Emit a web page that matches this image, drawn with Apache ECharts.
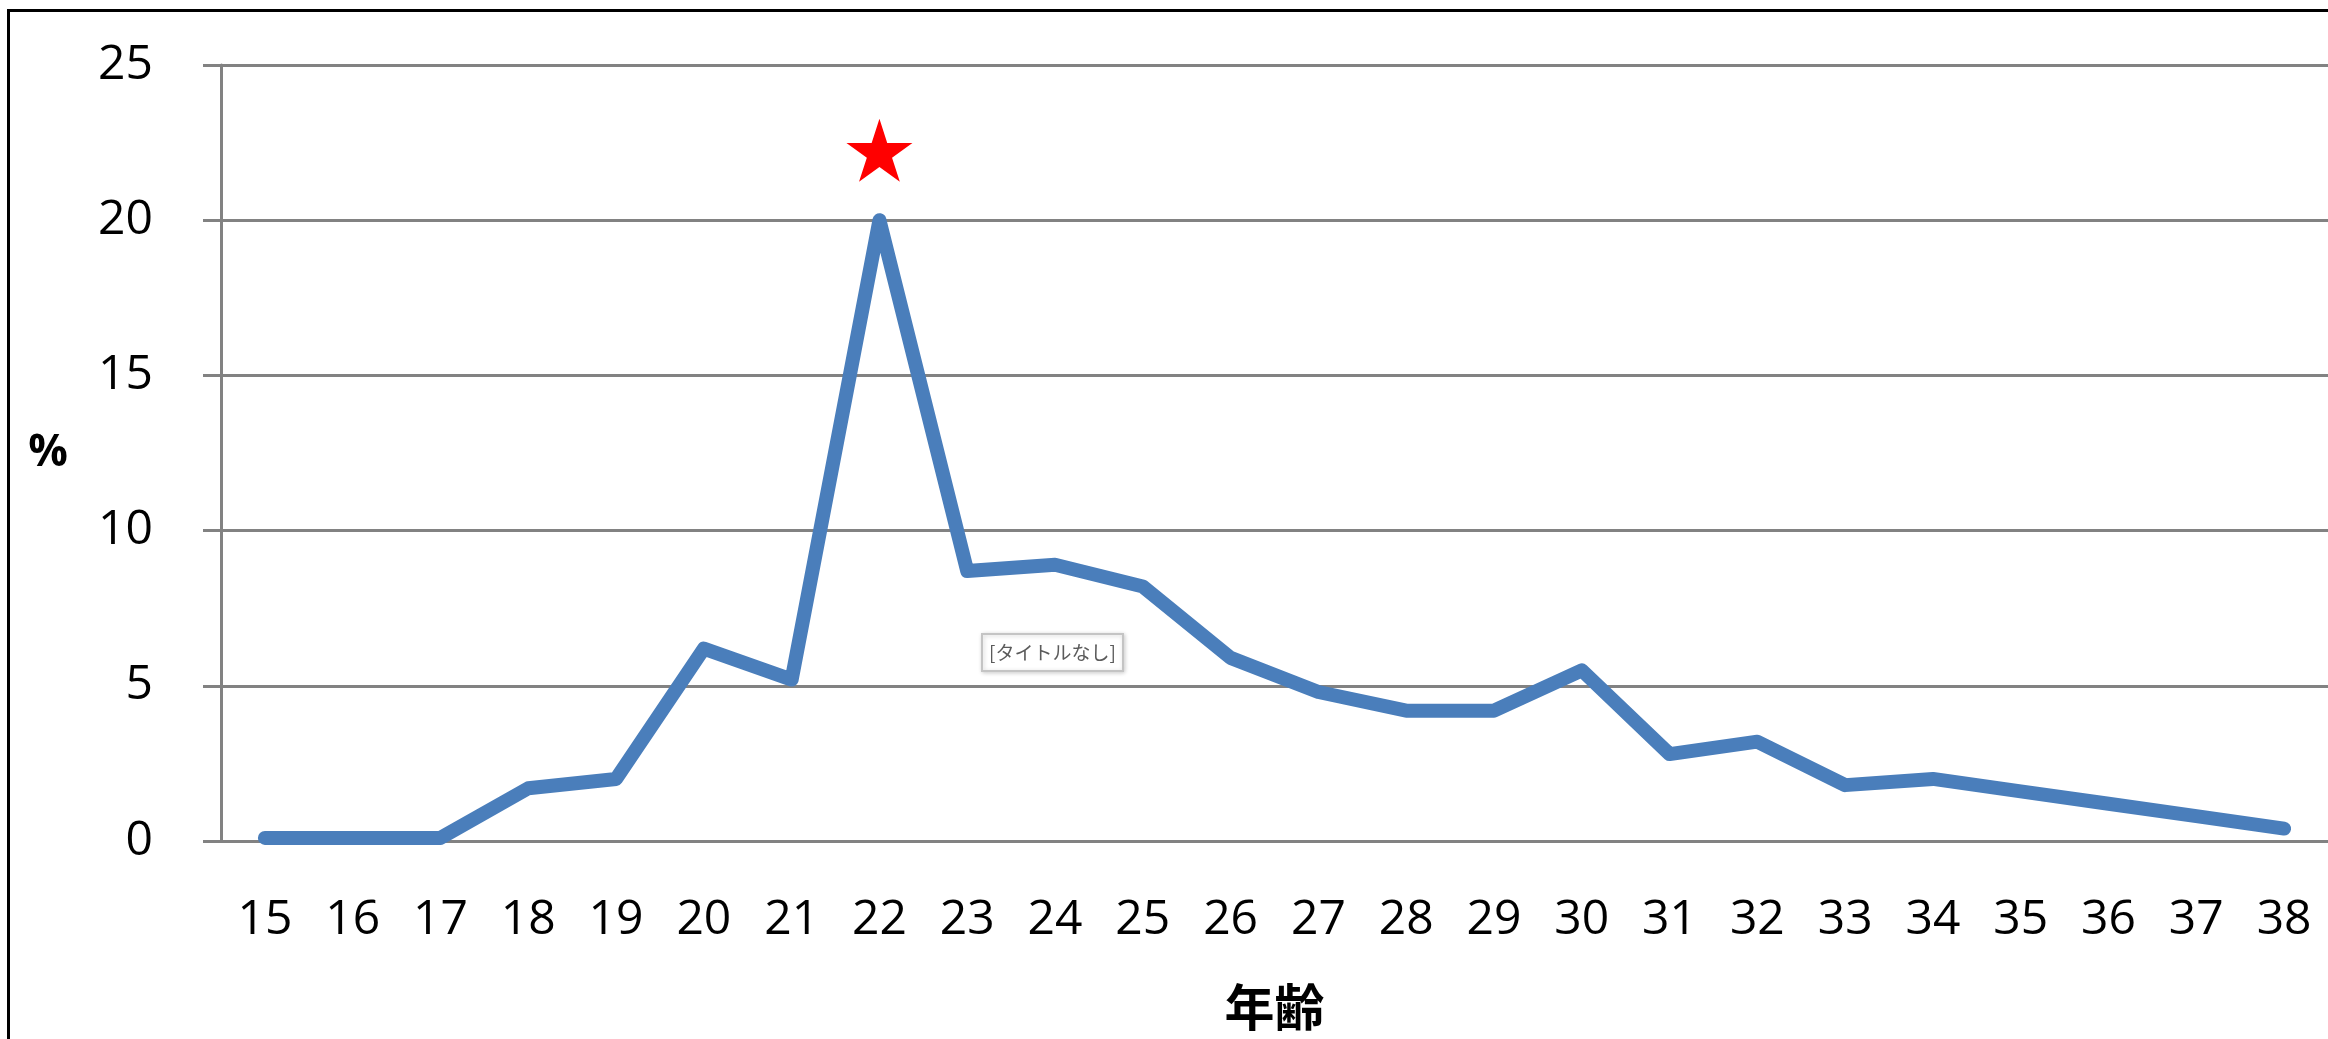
<!DOCTYPE html>
<html>
<head>
<meta charset="utf-8">
<script src="https://cdn.jsdelivr.net/npm/echarts@6/dist/echarts.min.js"></script>
<style>
  html, body { margin: 0; padding: 0; background: #fff; }
  #chart { width: 2328px; height: 1039px; }
</style>
</head>
<body>
<div id="chart"></div>
<script>
// Age categories (years)
const ages = ['15','16','17','18','19','20','21','22','23','24','25','26',
              '27','28','29','30','31','32','33','34','35','36','37','38'];
// Share at each age (%)
const shares = [0.1, 0.1, 0.1, 1.7, 2.0, 6.2, 5.2, 20.0, 8.7, 8.9, 8.2, 5.9,
                4.8, 4.2, 4.2, 5.5, 2.8, 3.2, 1.8, 2.0, 1.6, 1.2, 0.8, 0.4];
// Star marker placed above the peak age
const starMark = [['22', 22.25]];
// Value axis ticks
const yTicks = { min: 0, max: 25, interval: 5 };

const STAR = 'path://M50,0 L61.8,36.3 L100,36.3 L69.1,58.8 L80.9,95.1 L50,72.6 L19.1,95.1 L30.9,58.8 L0,36.3 L38.2,36.3 Z';
const gridGray = '#828282';
const sansFont = '"Open Sans", "Noto Sans", sans-serif';
const cjkFont = '"Noto Sans CJK JP", sans-serif';

const chart = echarts.init(document.getElementById('chart'));
chart.setOption({
  animation: false,
  backgroundColor: '#ffffff',
  title: {
    text: '[タイトルなし]',
    left: 982,
    top: 634,
    padding: [9, 7, 9, 7],
    borderColor: '#c4c4c4',
    borderWidth: 2,
    backgroundColor: '#ffffff',
    shadowColor: 'rgba(0,0,0,0.18)',
    shadowBlur: 4,
    shadowOffsetX: 1,
    shadowOffsetY: 1,
    textStyle: { fontFamily: cjkFont, fontSize: 19, fontWeight: 'normal', color: '#5b5b5b' }
  },
  graphic: [{
    type: 'rect',
    left: 6,
    top: 8,
    shape: { width: 3000, height: 2000 },
    style: { fill: 'none', stroke: '#000000', lineWidth: 3 },
    silent: true,
    z: 100
  }],
  grid: { left: 221, top: 65, width: 2109, height: 776, containLabel: false },
  xAxis: {
    type: 'category',
    data: ages,
    boundaryGap: true,
    name: '年齢',
    nameLocation: 'middle',
    nameGap: 141,
    nameTextStyle: { fontFamily: cjkFont, fontSize: 50, fontWeight: 'bold', color: '#000' },
    axisLine: { show: true, lineStyle: { color: gridGray, width: 3 } },
    axisTick: { show: false },
    axisLabel: { fontFamily: sansFont, fontSize: 48, color: '#000', margin: 55, interval: 0 },
    splitLine: { show: false }
  },
  yAxis: {
    type: 'value',
    min: yTicks.min,
    max: yTicks.max,
    interval: yTicks.interval,
    name: '%',
    nameLocation: 'middle',
    nameRotate: 0,
    nameGap: 153,
    nameTextStyle: { fontFamily: sansFont, fontSize: 44, fontWeight: 'bold', color: '#000' },
    axisLine: { show: true, lineStyle: { color: gridGray, width: 3 } },
    axisTick: { show: true, inside: false, length: 18, lineStyle: { color: gridGray, width: 3 } },
    axisLabel: { fontFamily: sansFont, fontSize: 48, color: '#000', margin: 68 },
    splitLine: { show: true, lineStyle: { color: gridGray, width: 3 } }
  },
  series: [
    {
      type: 'line',
      data: shares,
      showSymbol: false,
      symbol: 'none',
      lineStyle: { color: '#4a7ebb', width: 14, cap: 'round', join: 'round' },
      z: 3
    },
    {
      type: 'scatter',
      data: starMark,
      symbol: STAR,
      symbolSize: [66, 63],
      itemStyle: { color: '#ff0000', opacity: 1 },
      z: 4
    }
  ]
});
</script>
</body>
</html>
